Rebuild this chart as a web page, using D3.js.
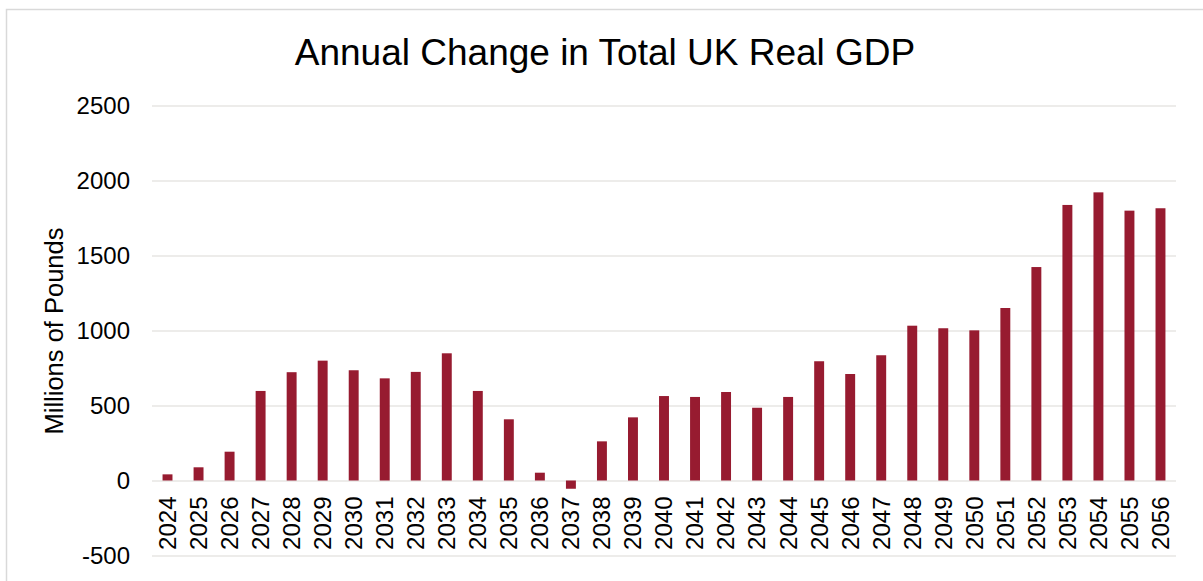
<!DOCTYPE html>
<html>
<head>
<meta charset="utf-8">
<script src="https://cdn.jsdelivr.net/npm/d3@7"></script>
<style>
  html, body { margin: 0; padding: 0; background: #ffffff; }
  svg { display: block; }
  text { font-family: "Liberation Sans", Arial, sans-serif; fill: #000; }
</style>
</head>
<body>
<svg id="chart" width="1203" height="581"></svg>
<script>
// Annual change in total UK real GDP, millions of pounds
const years = [
  "2024","2025","2026","2027","2028","2029","2030","2031","2032","2033","2034",
  "2035","2036","2037","2038","2039","2040","2041","2042","2043","2044","2045",
  "2046","2047","2048","2049","2050","2051","2052","2053","2054","2055","2056"
];
const gdpChange = [
  41, 88, 192, 597, 722, 799, 735, 681, 724, 848, 597,
  408, 52, -55, 261, 421, 563, 557, 590, 485, 557, 795,
  710, 835, 1032, 1015, 1001, 1150, 1423, 1837, 1921, 1799, 1815
];
const yTicks = [-500, 0, 500, 1000, 1500, 2000, 2500];

const titleText = "Annual Change in Total UK Real GDP";
const yLabel = "Millions of Pounds";

const svg = d3.select("#chart");
const plot = { left: 152, right: 1176, top: 105.5, bottom: 555.5 };

// outer frame
svg.append("rect")
  .attr("x", 6.5).attr("y", 9.5)
  .attr("width", 1230).attr("height", 620)
  .attr("fill", "none").attr("stroke", "#d9d9d9").attr("stroke-width", 1.5);

const x = d3.scaleBand()
  .domain(years)
  .range([plot.left, plot.right])
  .paddingInner(0.68)
  .paddingOuter(0.34);

const y = d3.scaleLinear()
  .domain([-500, 2500])
  .range([plot.bottom, plot.top]);

// gridlines and value labels (plain hyphen for negatives)
const yAxis = svg.append("g")
  .attr("transform", `translate(${plot.left},0)`)
  .call(d3.axisLeft(y)
    .tickValues(yTicks)
    .tickSize(-(plot.right - plot.left))
    .tickPadding(22)
    .tickFormat(d => String(d)));
yAxis.select(".domain").remove();
yAxis.selectAll(".tick line").attr("stroke", "#dcd9d6").attr("stroke-width", 1.2);
yAxis.selectAll(".tick text")
  .attr("font-size", 24)
  .attr("font-family", "Liberation Sans, Arial, sans-serif")
  .attr("fill", "#000");

// bars
svg.append("g").selectAll("rect")
  .data(years.map((yr, i) => ({ yr, v: gdpChange[i] })))
  .join("rect")
  .attr("x", d => x(d.yr))
  .attr("width", x.bandwidth())
  .attr("y", d => y(Math.max(0, d.v)))
  .attr("height", d => Math.abs(y(d.v) - y(0)))
  .attr("fill", "#971b30");

// category labels, rotated
const xAxis = svg.append("g")
  .attr("transform", `translate(0,${y(0)})`)
  .call(d3.axisBottom(x).tickSize(0).tickPadding(0));
xAxis.select(".domain").remove();
xAxis.selectAll(".tick text")
  .attr("font-size", 24)
  .attr("font-family", "Liberation Sans, Arial, sans-serif")
  .attr("fill", "#000")
  .attr("text-anchor", "end")
  .attr("transform", "translate(0,16) rotate(-90)")
  .attr("x", 0)
  .attr("y", 0)
  .attr("dy", "0.35em");

// title
svg.append("text")
  .attr("x", 605).attr("y", 65)
  .attr("text-anchor", "middle")
  .attr("font-size", 37)
  .text(titleText);

// y-axis title
svg.append("text")
  .attr("transform", "translate(63,331) rotate(-90)")
  .attr("text-anchor", "middle")
  .attr("font-size", 25.5)
  .text(yLabel);
</script>
</body>
</html>
